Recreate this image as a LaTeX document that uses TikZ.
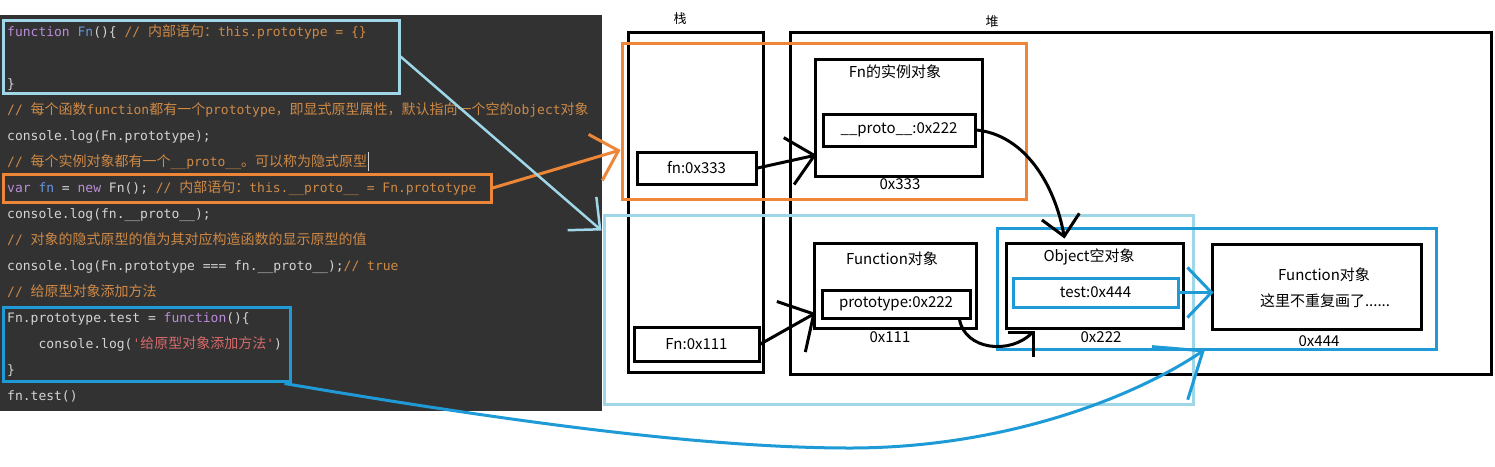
\documentclass[tikz,border=0pt]{standalone}
\usepackage{fontspec}
\setmainfont{Noto Sans CJK SC}
\newfontfamily\codefont{DejaVu Sans Mono}[Ligatures=TeXOff]
\newfontfamily\cjk{Noto Sans CJK SC}
\usetikzlibrary{arrows.meta,calc}
\definecolor{panelbg}{RGB}{50,50,50}
\definecolor{codetext}{RGB}{212,212,212}
\definecolor{kw}{RGB}{185,140,215}
\definecolor{fnb}{RGB}{105,150,220}
\definecolor{cmt}{RGB}{206,137,70}
\definecolor{strc}{RGB}{214,106,106}
\definecolor{orangeL}{RGB}{237,135,55}
\definecolor{lblue}{RGB}{160,215,232}
\definecolor{bblue}{RGB}{30,155,215}
\newcommand\zh[1]{{\cjk\fontsize{14}{15}\selectfont #1}}
\tikzset{
  code/.style={font=\codefont\fontsize{13}{15}\selectfont, text=codetext, inner sep=0pt, anchor=base west},
  cbox/.style={draw, line width=3pt, inner sep=0pt, fill=none},
  blk/.style={draw=black, line width=3pt, inner sep=0pt},
  lbl/.style={font=\fontsize{15}{18}\selectfont, inner sep=0pt, text=black},
  slbl/.style={font=\fontsize{13}{15}\selectfont, inner sep=0pt, text=black},
  arr/.style={line width=3pt},
  barb/.style 2 args={-{Straight Barb[length=#1pt 0 0, width=#2pt 0 0]}},
}
\begin{document}
\begin{tikzpicture}[x=1pt,y=-1pt]
\useasboundingbox (0,0) rectangle (1495,466);
\fill[white] (0,0) rectangle (1495,466);
\fill[panelbg] (0,15) rectangle (602,411);

% ---- code lines ----
\node[code] (c1) at (7,36) {\textcolor{kw}{function} \textcolor{fnb}{Fn}()\{ \textcolor{cmt}{// \zh{内部语句：}this.prototype = \{\}}};
\node[code] (c3) at (7,88) {\}};
\node[code] (c4) at (7,114) {\textcolor{cmt}{// \zh{每个函数}function\zh{都有一个}prototype\zh{，即显式原型属性，默认指向一个空的}object\zh{对象}}};
\node[code] (c5) at (7,140) {console.log(Fn.prototype);};
\node[code] (c6) at (7,166) {\textcolor{cmt}{// \zh{每个实例对象都有一个}\_\_proto\_\_\zh{。可以称为隐式原型}}};
\node[code] (c7) at (7,192) {\textcolor{kw}{var} \textcolor{fnb}{fn} = \textcolor{kw}{new} Fn(); \textcolor{cmt}{// \zh{内部语句：}this.\_\_proto\_\_ = Fn.prototype}};
\node[code] (c8) at (7,218) {console.log(fn.\_\_proto\_\_);};
\node[code] (c9) at (7,244) {\textcolor{cmt}{// \zh{对象的隐式原型的值为其对应构造函数的显示原型的值}}};
\node[code] (c10) at (7,270) {console.log(Fn.prototype === fn.\_\_proto\_\_);\textcolor{cmt}{// true}};
\node[code] (c11) at (7,296) {\textcolor{cmt}{// \zh{给原型对象添加方法}}};
\node[code] (c12) at (7,322) {Fn.prototype.test = \textcolor{kw}{function}()\{};
\node[code] (c13) at (38.4,348) {console.log(\textcolor{strc}{'\zh{给原型对象添加方法}'})};
\node[code] (c14) at (7,374) {\}};
\node[code] (c15) at (7,400) {fn.test()};
\draw[codetext, line width=1pt] (368,152) -- (368,171);

% ---- code highlight boxes ----
\node[cbox, draw=lblue, minimum width=396pt, minimum height=73pt] (codeFn) at (201,56.5) {};
\node[cbox, draw=orangeL, minimum width=488pt, minimum height=28pt] (codeVar) at (247,188) {};
\node[cbox, draw=bblue, minimum width=287pt, minimum height=74pt] (codeTest) at (146.5,344) {};

% ---- stack and heap ----
\node[blk, minimum width=135pt, minimum height=340pt] (stack) at (695.5,202) {};
\node[blk, minimum width=701pt, minimum height=342pt] (heap) at (1140.5,203) {};
\node[slbl] (stackT) at (680,19) {栈};
\node[slbl] (heapT) at (992,22) {堆};

\node[blk, lbl, minimum width=119pt, minimum height=32pt] (fn333) at (696.5,168) {fn:0x333};
\node[blk, lbl, minimum width=125pt, minimum height=34pt] (Fn111) at (696.5,344) {Fn:0x111};

\node[blk, minimum width=167pt, minimum height=117pt] (inst) at (898.5,117.5) {};
\node[lbl] (instT) at (895,72) {Fn的实例对象};
\node[blk, lbl, minimum width=152pt, minimum height=32pt] (protoIn) at (899,130) {\_\_proto\_\_:0x222};
\node[lbl] (instA) at (900,184) {0x333};

\node[blk, minimum width=162pt, minimum height=85pt] (funcObj) at (895,285.5) {};
\node[lbl] (funcObjT) at (892,259) {Function对象};
\node[blk, lbl, minimum width=148pt, minimum height=28pt] (protoF) at (896,304) {prototype:0x222};
\node[lbl] (funcObjA) at (890,337) {0x111};

\node[blk, minimum width=177pt, minimum height=85pt] (objE) at (1094.5,285.5) {};
\node[lbl] (objET) at (1089,257) {Object空对象};
\node[blk, lbl, draw=bblue, minimum width=165pt, minimum height=29pt] (testN) at (1095.5,292.5) {test:0x444};
\node[lbl] (objEA) at (1101,337) {0x222};

\node[blk, minimum width=209pt, minimum height=85pt] (funcR) at (1316.5,286.5) {};
\node[lbl] (funcRT1) at (1324,275) {Function对象};
\node[lbl] (funcRT2) at (1325,301) {这里不重复画了......};
\node[lbl] (funcRA) at (1319,341) {0x444};

% ---- coloured group frames ----
\node[cbox, draw=lblue, minimum width=589pt, minimum height=189pt] (lbRect) at (898.5,309.5) {};
\node[cbox, draw=orangeL, minimum width=404pt, minimum height=156pt] (oRect) at (824,121) {};
\node[cbox, draw=bblue, minimum width=439pt, minimum height=121pt] (bRect) at (1217,288.5) {};

\coordinate (tipO) at ($(oRect.west)+(0,29)$);
\coordinate (tipLB) at ($(lbRect.north west)+(-1,17)$);
\coordinate (tipB) at ($(bRect.south west)+(209,-1)$);

% ---- black arrows ----
\draw[arr, barb={26}{48}] (fn333.east) -- ($(inst.west)+(3,37.5)$);
\draw[arr, barb={26}{58}] (Fn111.east) -- ($(funcObj.west)+(3,27.5)$);
\draw[arr, barb={20}{38}] (protoIn.east) .. controls (1025,135) and (1055,185) .. ($(objE.north)+(-30,-3)$);
\draw[arr, barb={18}{36}] ($(protoF.south east)+(-12,0)$) .. controls (965,350) and (1010,355) .. ($(objE.south)+(-60,1)$);

% ---- coloured arrows ----
\draw[arr, bblue, barb={24}{50}] (testN.east) -- ($(funcR.west |- testN.east)+(3,0)$);
\draw[arr, orangeL, barb={24}{48}] (codeVar.east) -- (tipO);
\draw[line width=2.5pt, lblue, barb={24}{44}] (codeFn.east) -- (tipLB);
\draw[arr, bblue, barb={40}{64}] ($(codeTest.south east)+(-7,1)$) .. controls (500,420) and (700,448) .. (850,448) .. controls (1000,448) and (1130,400) .. (tipB);
\end{tikzpicture}
\end{document}
